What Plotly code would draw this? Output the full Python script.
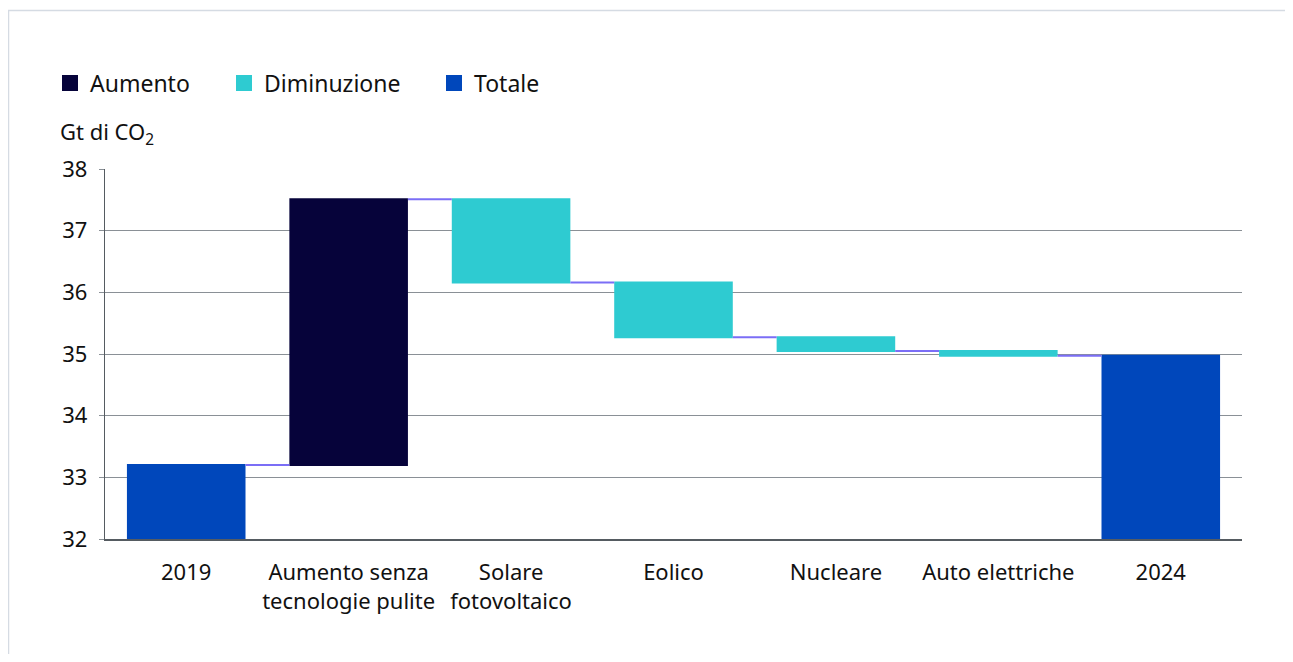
import plotly.graph_objects as go

categories = ["2019", "Aumento senza<br>tecnologie pulite", "Solare<br>fotovoltaico",
              "Eolico", "Nucleare", "Auto elettriche", "2024"]
values = [33.2, 4.31, -1.35, -0.89, -0.22, -0.08, 0]
measures = ["absolute", "relative", "relative", "relative", "relative", "relative", "total"]
legend_labels = ["Aumento", "Diminuzione", "Totale"]
legend_colors = ["#06033a", "#2ecbd1", "#0047bb"]
y_ticks = [32, 33, 34, 35, 36, 37, 38]

OFF = 8  # page body margin
W, H = 1293 - OFF, 662 - 2 * OFF
# plot area in page coordinates: x 105..1242, y 169..539
L, R, T, B = 105 - OFF, (1293 - 1242), 169 - OFF, (H - (539 - OFF))
PW, PH = W - L - R, H - T - B

def px_x(p):
    return (p - OFF - L) / PW

def px_y(p):
    return (H - B - (p - OFF)) / PH

FONT = "Noto Sans"

fig = go.Figure()
fig.add_trace(go.Waterfall(
    x=categories, y=values, measure=measures,
    increasing=dict(marker=dict(color=legend_colors[0])),
    decreasing=dict(marker=dict(color=legend_colors[1])),
    totals=dict(marker=dict(color=legend_colors[2])),
    connector=dict(mode="between", line=dict(color="#7b6ef6", width=2)),
    showlegend=False,
))

legend_px = [50, 224, 434]
for i, (lab, col) in enumerate(zip(legend_labels, legend_colors)):
    lname = "legend" if i == 0 else f"legend{i+1}"
    fig.add_trace(go.Scatter(
        x=[None], y=[None], mode="markers", name=lab,
        marker=dict(symbol="square", size=18, color=col),
        legend=lname, showlegend=True,
    ))
    fig.update_layout(**{lname: dict(
        x=px_x(legend_px[i]), y=px_y(83), xanchor="left", yanchor="middle",
        orientation="h", font=dict(family=FONT, size=23, color="#111"),
        bgcolor="rgba(0,0,0,0)", borderwidth=0,
    )})

fig.update_layout(
    width=W, height=H,
    margin=dict(l=L, r=R, t=T, b=B),
    paper_bgcolor="white", plot_bgcolor="white",
    waterfallgap=0.27,
    font=dict(family=FONT, size=22, color="#111"),
    xaxis=dict(
        showgrid=False, showline=True, linecolor="#555b61", linewidth=1.5,
        ticks="", tickfont=dict(size=22), ticklabelstandoff=13,
    ),
    yaxis=dict(
        range=[32, 38], tickvals=y_ticks, showgrid=True, gridcolor="#8a9096",
        gridwidth=1.4, showline=True, linecolor="#555b61", linewidth=1.3,
        ticks="outside", ticklen=5, tickcolor="#8a9096", tickfont=dict(size=22),
        ticklabelstandoff=7, zeroline=False,
    ),
    annotations=[dict(
        text="Gt di CO<sub>2</sub>", xref="paper", yref="paper",
        x=px_x(58), y=px_y(133), xanchor="left", yanchor="middle",
        showarrow=False, font=dict(family=FONT, size=22, color="#111"),
    )],
    shapes=[dict(
        type="rect", xref="paper", yref="paper",
        x0=px_x(8.5), x1=px_x(1291.5), y0=px_y(670), y1=px_y(10.5),
        line=dict(color="#d5dbe3", width=1.5), fillcolor="rgba(0,0,0,0)", layer="below",
    )],
)

fig.write_html("out.html")
